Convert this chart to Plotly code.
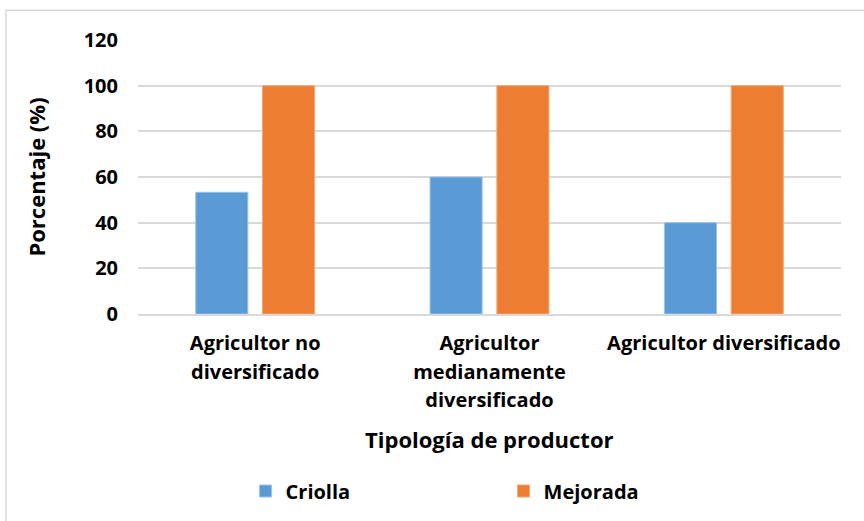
import plotly.graph_objects as go

# Data
categories = ["Agricultor no diversificado",
              "Agricultor medianamente diversificado",
              "Agricultor diversificado"]
tick_labels = ["Agricultor no<br>diversificado",
               "Agricultor<br>medianamente<br>diversificado",
               "Agricultor diversificado"]
criolla = [53.3, 60, 40]
mejorada = [100, 100, 100]

FONT = "Open Sans"
BLUE = "#5B9BD5"
ORANGE = "#ED7D31"
GRID = "#d9d9d9"


def label(t, size=20):
    # wrap each line in a span so glyph size is independent of line spacing
    return "<br>".join(f"<span style='font-size:{size}px'>{p}</span>" for p in t.split("<br>"))


fig = go.Figure()
fig.add_trace(go.Bar(name="Criolla", x=categories, y=criolla,
                     marker=dict(color=BLUE, line=dict(color="#9cc2e8", width=1))))
fig.add_trace(go.Bar(name="Mejorada", x=categories, y=mejorada,
                     marker=dict(color=ORANGE, line=dict(color="#f3a877", width=1))))

fig.update_layout(
    width=864, height=521,
    margin=dict(l=138, r=23, t=40, b=206),
    paper_bgcolor="white", plot_bgcolor="white",
    barmode="group", bargap=0.43, bargroupgap=0.22,
    font=dict(family=FONT, color="black"),
    showlegend=True,
    legend=dict(orientation="h", x=0.153, xanchor="left", y=-0.64, yanchor="middle",
                font=dict(family=FONT, size=20, color="black", weight="bold"),
                entrywidth=213, entrywidthmode="pixels",
                traceorder="normal", bgcolor="rgba(0,0,0,0)"),
    xaxis=dict(
        tickmode="array", tickvals=categories,
        ticktext=[label(t) for t in tick_labels],
        tickfont=dict(family=FONT, size=22, color="black", weight="bold"),
        showline=True, linecolor=GRID, linewidth=1.5,
        showgrid=False, ticks="", automargin=False, ticklabelstandoff=8,
    ),
    yaxis=dict(
        range=[0, 120], dtick=20, tick0=0,
        tickfont=dict(family=FONT, size=20, color="black", weight="bold"),
        showgrid=True, gridcolor=GRID, gridwidth=1.5,
        zeroline=False, showline=False, ticks="",
        ticklabelstandoff=19, automargin=False,
        title=dict(text="Porcentaje (%)", standoff=31,
                   font=dict(family=FONT, size=22, color="black", weight="bold")),
    ),
    annotations=[
        dict(text="Tipología de productor", xref="paper", yref="paper",
             x=0.5, y=-0.455, xanchor="center", yanchor="middle", showarrow=False,
             font=dict(family=FONT, size=22, color="black", weight="bold")),
    ],
    shapes=[
        dict(type="rect", xref="paper", yref="paper",
             x0=-0.1878, x1=1.041, y0=-0.782, y1=1.109,
             line=dict(color=GRID, width=1.5), fillcolor="rgba(0,0,0,0)", layer="below"),
    ],
)

fig.write_html("out.html")
